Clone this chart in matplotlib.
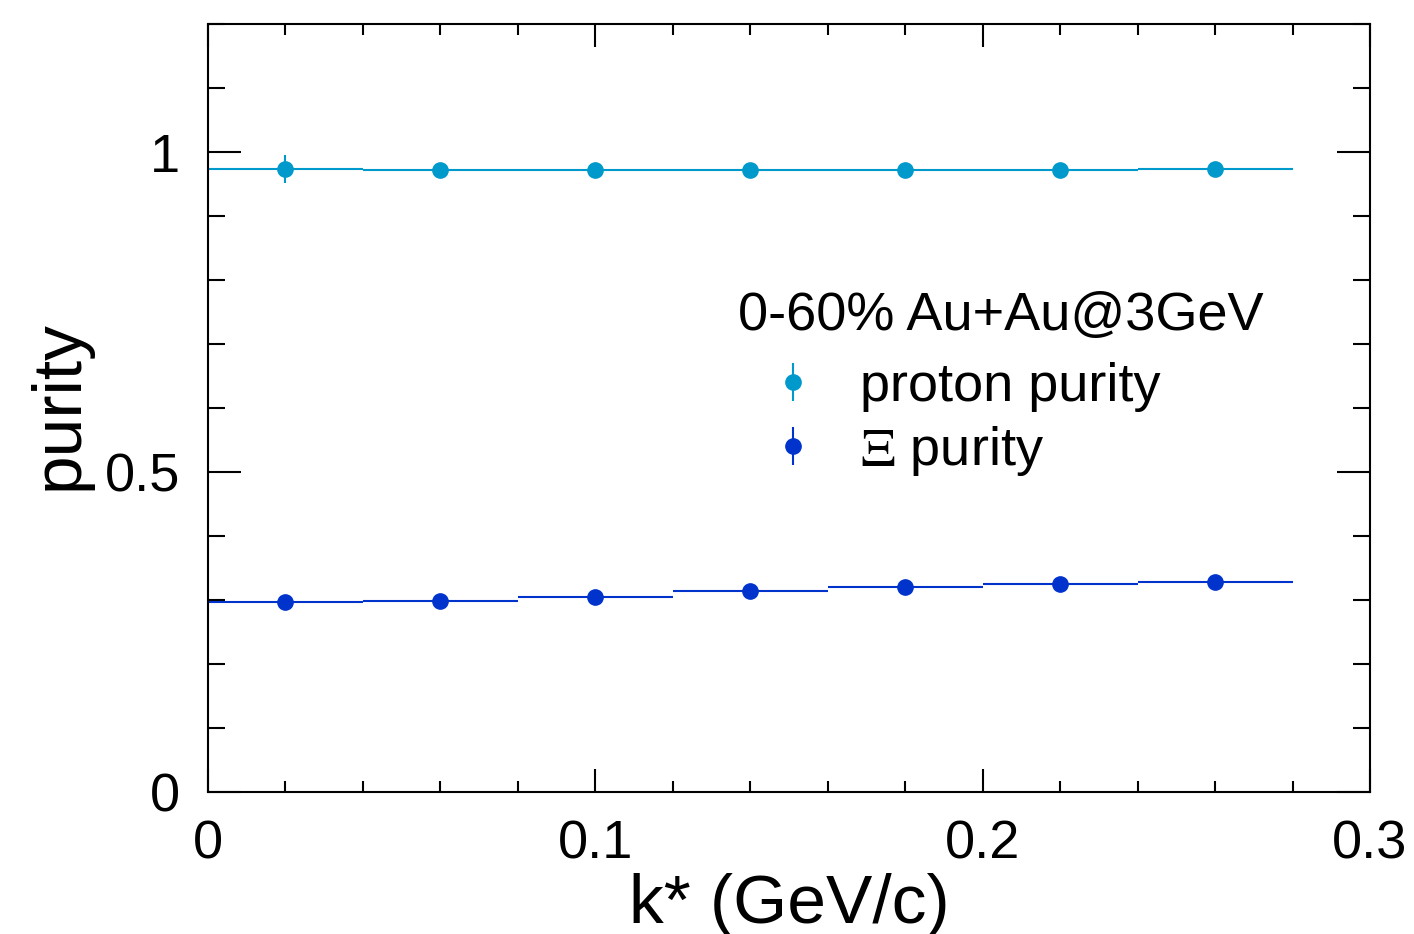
import matplotlib
matplotlib.use("Agg")
import matplotlib.pyplot as plt
from matplotlib.lines import Line2D
from matplotlib.legend_handler import HandlerTuple
from matplotlib.ticker import MultipleLocator, FuncFormatter

plt.rcParams['font.family'] = ['Liberation Sans', 'DejaVu Sans']
plt.rcParams['mathtext.fontset'] = 'stix'

# k* bin centres and half widths (GeV/c)
kstar = [0.02, 0.06, 0.10, 0.14, 0.18, 0.22, 0.26]
kstar_half = [0.02, 0.02, 0.02, 0.02, 0.02, 0.02, 0.02]

proton_purity = [0.973, 0.972, 0.972, 0.972, 0.972, 0.972, 0.973]
proton_err = [0.022, 0.003, 0.003, 0.003, 0.003, 0.003, 0.003]

xi_purity = [0.297, 0.298, 0.305, 0.314, 0.320, 0.325, 0.328]
xi_err = [0.004, 0.004, 0.004, 0.004, 0.004, 0.004, 0.004]

c_p = '#0099cc'
c_xi = '#0033cc'

fig = plt.figure(figsize=(14.14, 9.34), dpi=100)
ax = fig.add_axes([208/1414, 142/934, 1162/1414, 768/934])

ax.errorbar(kstar, proton_purity, xerr=kstar_half, yerr=proton_err, fmt='o',
            color=c_p, ms=11, elinewidth=1.5, capsize=0)
ax.errorbar(kstar, xi_purity, xerr=kstar_half, yerr=xi_err, fmt='o',
            color=c_xi, ms=11, elinewidth=1.5, capsize=0)

ax.set_xlim(0, 0.3)
ax.set_ylim(0, 1.2)
ax.xaxis.set_major_locator(MultipleLocator(0.1))
ax.xaxis.set_minor_locator(MultipleLocator(0.02))
ax.yaxis.set_major_locator(MultipleLocator(0.5))
ax.yaxis.set_minor_locator(MultipleLocator(0.1))
fmt = FuncFormatter(lambda v, p: '%g' % round(v, 3))
ax.xaxis.set_major_formatter(fmt)
ax.yaxis.set_major_formatter(fmt)

ax.tick_params(which='both', direction='in', top=True, right=True, width=1.5,
               labelsize=39, pad=20)
ax.tick_params(axis='x', which='major', length=16.5)
ax.tick_params(axis='x', which='minor', length=8)
ax.tick_params(axis='y', which='major', length=24)
ax.tick_params(axis='y', which='minor', length=12)
for s in ax.spines.values():
    s.set_linewidth(1.5)

fig.text(789/1414, (934-923)/934, 'k* (GeV/c)', fontsize=50,
         ha='center', va='baseline')
fig.text(92/1414, (934-490)/934, 'purity', fontsize=50, rotation=90,
         ha='right', va='bottom')

# legend entries drawn as dot with a vertical bar
h_p = (Line2D([], [], ls='none', marker='|', ms=27, mew=1.5, color=c_p),
       Line2D([], [], ls='none', marker='o', ms=11, color=c_p))
h_xi = (Line2D([], [], ls='none', marker='|', ms=27, mew=1.5, color=c_xi),
        Line2D([], [], ls='none', marker='o', ms=11, color=c_xi))
leg = ax.legend([h_p, h_xi], ['proton purity', r'$\Xi$ purity'],
                handler_map={tuple: HandlerTuple(ndivide=1, pad=0)},
                title='0-60% Au+Au@3GeV', title_fontsize=39, fontsize=39,
                frameon=False, loc='upper left',
                bbox_to_anchor=(738/1414, (934-291)/934),
                bbox_transform=fig.transFigure, borderpad=0, borderaxespad=0,
                handlelength=2.04, handletextpad=0.22, labelspacing=0.22,
                numpoints=1)
leg._legend_box.align = 'left'
leg._legend_box.sep = 15

fig.savefig('out.png', dpi=100)
